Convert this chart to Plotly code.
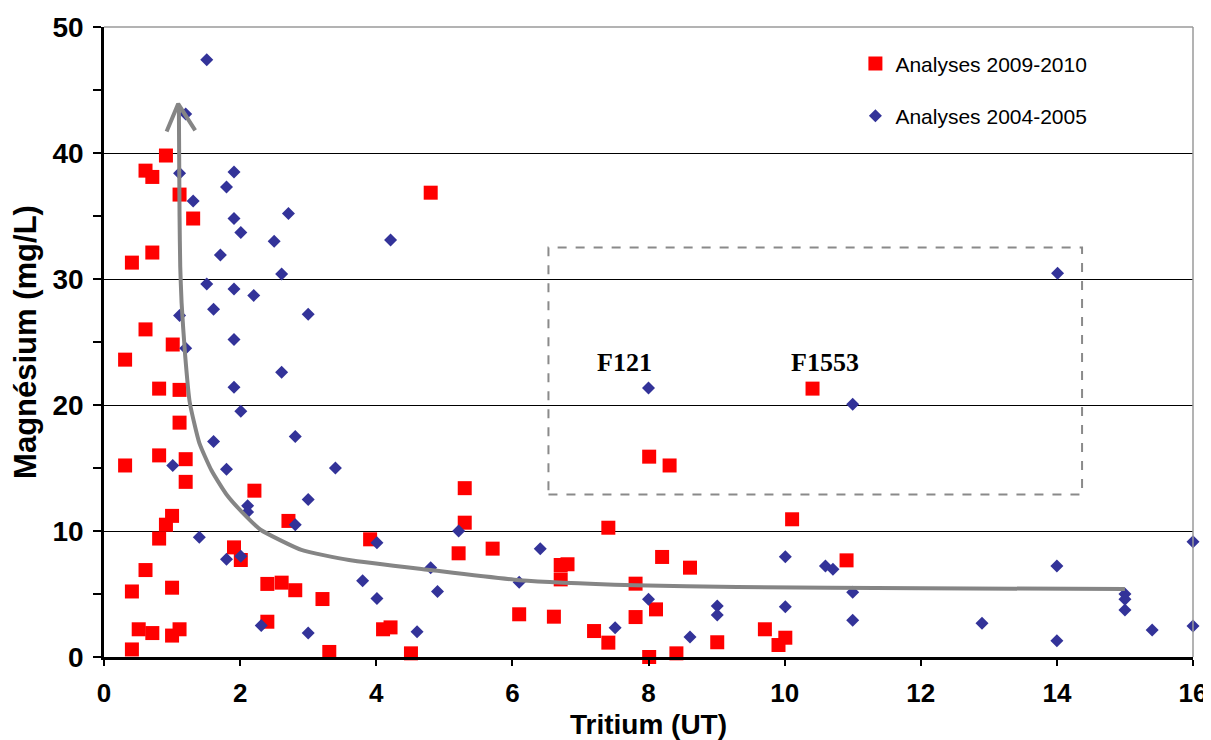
import plotly.graph_objects as go

# Analyses 2009-2010 (red squares)
x_2009 = [0.91, 0.61, 0.71, 1.11, 1.31, 0.71, 0.41,
          0.61, 1.01, 0.31, 0.81, 1.11, 1.11, 0.81, 1.20, 0.31,
          1.20, 2.21, 1.00, 0.91, 0.81, 2.71, 1.91, 2.01, 0.61, 0.41, 1.00, 2.40, 2.61, 2.81,
          3.21, 2.40, 0.51, 0.71, 1.00, 1.11, 0.41, 3.31,
          4.80,
          5.30, 5.30, 3.91, 5.21, 5.71, 7.41, 8.01, 8.31, 6.81, 6.71, 6.71, 8.20, 8.61, 7.81,
          6.10, 6.61, 8.11, 7.81, 7.20, 7.41, 4.10, 4.21, 4.51, 8.01, 8.41, 9.01,
          10.11, 10.91, 9.71, 10.01, 9.91, 10.41]
y_2009 = [39.8, 38.6, 38.1, 36.7, 34.8, 32.1, 31.3,
          26.0, 24.8, 23.6, 21.3, 21.2, 18.6, 16.0, 15.7, 15.2,
          13.9, 13.2, 11.2, 10.5, 9.4, 10.8, 8.7, 7.7, 6.9, 5.2, 5.5, 5.8, 5.9, 5.3,
          4.6, 2.8, 2.2, 1.9, 1.7, 2.2, 0.6, 0.4,
          36.85,
          13.4, 10.66, 9.34, 8.23, 8.6, 10.26, 15.9, 15.2, 7.36, 7.3, 6.16, 7.94, 7.09, 5.82,
          3.39, 3.2, 3.78, 3.17, 2.06, 1.14, 2.2, 2.35, 0.29, 0.0, 0.29, 1.17,
          10.93, 7.67, 2.2, 1.53, 0.95, 21.3]

# Analyses 2004-2005 (blue diamonds)
x_2004 = [1.51, 1.20, 1.11, 1.91, 1.80, 1.31, 2.71, 1.91, 2.01, 2.50, 1.71, 2.61,
          1.51, 1.91, 2.20, 1.61, 3.00, 1.11, 1.91, 1.20, 2.61, 1.91, 2.01, 2.81, 1.61, 1.01, 1.80, 3.40,
          2.11, 2.11, 3.00, 2.81, 1.40, 1.80, 2.01, 2.31, 3.00,
          4.21, 8.00,
          5.21, 4.01, 6.41, 4.80, 3.80, 4.01, 4.90, 6.10, 4.60, 8.00, 7.51, 8.61, 9.01, 9.01,
          11.0, 10.01, 10.60, 10.71, 11.0, 10.01, 11.0, 12.9, 14.0, 14.0, 15.0, 15.0, 15.0,
          15.4, 16.0, 16.0, 14.01]
y_2004 = [47.4, 43.1, 38.4, 38.5, 37.3, 36.2, 35.2, 34.8, 33.7, 33.0, 31.9, 30.4,
          29.6, 29.2, 28.7, 27.6, 27.2, 27.1, 25.2, 24.5, 22.6, 21.4, 19.5, 17.5, 17.1, 15.2, 14.9, 15.0,
          12.0, 11.5, 12.5, 10.5, 9.5, 7.75, 8.0, 2.5, 1.9,
          33.1, 21.35,
          10.0, 9.07, 8.6, 7.09, 6.06, 4.65, 5.19, 5.93, 2.0, 4.58, 2.33, 1.59, 4.05, 3.33,
          20.05, 7.96, 7.22, 6.96, 5.13, 3.99, 2.91, 2.67, 7.22, 1.29, 5.0, 4.58, 3.73,
          2.14, 9.15, 2.46, 30.45]

# Hand-drawn trend arrow
curve_x = [15.0, 12.0, 9.3, 7.8, 6.1, 4.8, 3.6, 2.9, 2.3, 2.1, 1.8, 1.58, 1.4, 1.26, 1.19, 1.14, 1.12, 1.11, 1.10]
curve_y = [5.4, 5.45, 5.55, 5.7, 6.1, 6.9, 7.7, 8.5, 10.1, 11.1, 12.9, 14.8, 17.0, 20.2, 24.1, 28.1, 31.0, 35.0, 43.6]
head_x = [0.92, 1.09, 1.34]
head_y = [41.7, 43.9, 41.8]

# Dashed box and labels
box_x = [6.53, 14.37]
box_y = [12.9, 32.5]
label_text = ["F121", "F1553"]
label_x = [7.65, 10.59]
label_y = [23.4, 23.4]

x_ticks = [0, 2, 4, 6, 8, 10, 12, 14, 16]
y_ticks = [0, 10, 20, 30, 40, 50]

fig = go.Figure()
fig.add_trace(go.Scatter(
    x=x_2009, y=y_2009, mode="markers", name="Analyses 2009-2010",
    legendgroup="a",
    marker=dict(symbol="square", size=14, color="#FF0000"),
    cliponaxis=False))
fig.add_trace(go.Scatter(
    x=x_2004, y=y_2004, mode="markers", name="Analyses 2004-2005",
    legendgroup="b",
    marker=dict(symbol="diamond", size=10, color="#333399"),
    cliponaxis=False))
fig.add_trace(go.Scatter(
    x=curve_x, y=curve_y, mode="lines", showlegend=False,
    line=dict(color="#858585", width=4, shape="spline", smoothing=0.5),
    hoverinfo="skip"))
fig.add_trace(go.Scatter(
    x=head_x, y=head_y, mode="lines", showlegend=False,
    line=dict(color="#858585", width=4),
    hoverinfo="skip"))

for t, lx, ly in zip(label_text, label_x, label_y):
    fig.add_annotation(x=lx, y=ly, text="<b>" + t + "</b>", showarrow=False,
                       font=dict(family="Liberation Serif", size=26, color="black"))

fig.add_shape(type="rect", x0=box_x[0], x1=box_x[1], y0=box_y[0], y1=box_y[1],
              line=dict(color="#8a8a8a", width=2, dash="dash"))
# frame top/right in grey
fig.add_shape(type="line", xref="paper", yref="paper", x0=0, x1=1, y0=1, y1=1,
              line=dict(color="#9a9a9a", width=1.5))
fig.add_shape(type="line", xref="paper", yref="paper", x0=1, x1=1, y0=0, y1=1,
              line=dict(color="#9a9a9a", width=1.5))

fig.update_layout(
    width=1203, height=732,
    margin=dict(l=96, r=18, t=19, b=83),
    paper_bgcolor="white", plot_bgcolor="white",
    font=dict(family="Liberation Sans", color="black"),
    showlegend=True,
    legend=dict(x=0.69, y=0.974, xanchor="left", yanchor="top",
                font=dict(family="Liberation Sans", size=21, color="black"),
                traceorder="grouped", tracegroupgap=22,
                bgcolor="rgba(0,0,0,0)", itemwidth=30),
    xaxis=dict(range=[0, 16], tickvals=x_ticks, ticktext=[str(v) for v in x_ticks],
               automargin=False, ticklabeloverflow="allow",
               showgrid=False, zeroline=False,
               showline=True, linecolor="black", linewidth=2.5,
               ticks="outside", ticklen=6, tickwidth=1.5, tickcolor="black",
               ticklabelstandoff=5,
               tickfont=dict(family="Liberation Sans", size=26, color="black", weight="bold"),
               title=dict(text="<b>Tritium (UT)</b>", standoff=10,
                          font=dict(family="Liberation Sans", size=28, color="black"))),
    yaxis=dict(range=[0, 50], tickvals=y_ticks, ticktext=[str(v) for v in y_ticks],
               automargin=False,
               showgrid=True, gridcolor="black", gridwidth=1.2, zeroline=False,
               showline=True, linecolor="black", linewidth=2.5,
               ticks="outside", ticklen=8, tickwidth=1.5, tickcolor="black",
               ticklabelstandoff=4,
               minor=dict(tickvals=[5, 15, 25, 35, 45], ticks="outside", ticklen=8,
                          tickwidth=1.5, tickcolor="black", showgrid=False),
               tickfont=dict(family="Liberation Sans", size=28, color="black", weight="bold"),
               title=dict(text="<b>Magnésium (mg/L)</b>", standoff=8,
                          font=dict(family="Liberation Sans", size=31, color="black"))),
)

fig.write_html("out.html")
